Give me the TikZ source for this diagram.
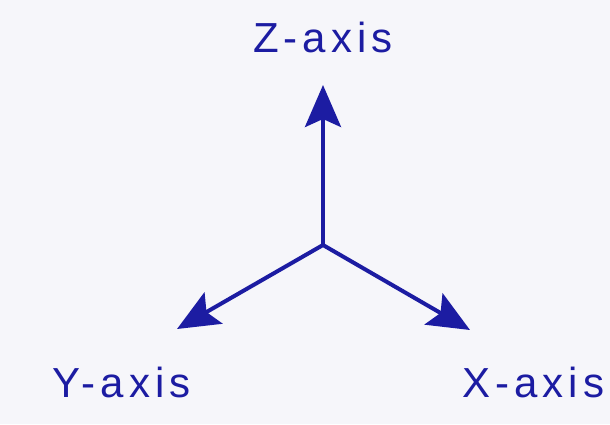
\documentclass[tikz,border=0pt]{standalone}
\usepackage{fontspec}
\setmainfont{Liberation Sans}[LetterSpace=12]
\usetikzlibrary{arrows.meta, positioning}
\definecolor{axisblue}{HTML}{1C1CA2}
\definecolor{paper}{HTML}{F6F6FA}

\begin{document}
\begin{tikzpicture}[
    x=1pt, y=-1pt,
    axis/.style={draw=axisblue, line width=4pt, -{Stealth[length=42pt, width=36pt, inset=8pt]}},
    label/.style={text=axisblue, font=\fontsize{42}{46}\selectfont, inner sep=0pt}
]

% Background
\fill[paper] (0,0) rectangle (610,424);
\useasboundingbox (0,0) rectangle (610,424);

% Points
\coordinate (origin) at (323,245);
\coordinate (ztip) at (323,85);
\coordinate (ytip) at (177,329);
\coordinate (xtip) at (470,330);

% Labels
\node (zlabel) [label, anchor=base] at (323,52) {Z-axis};
\node (ylabel) [label, anchor=base east] at (191,397) {Y-axis};
\node (xlabel) [label, anchor=base west] at (462,397) {X-axis};

% Axes
\draw [axis] (origin) -- (ztip);
\draw [axis] (origin) -- (ytip);
\draw [axis] (origin) -- (xtip);

\end{tikzpicture}
\end{document}
